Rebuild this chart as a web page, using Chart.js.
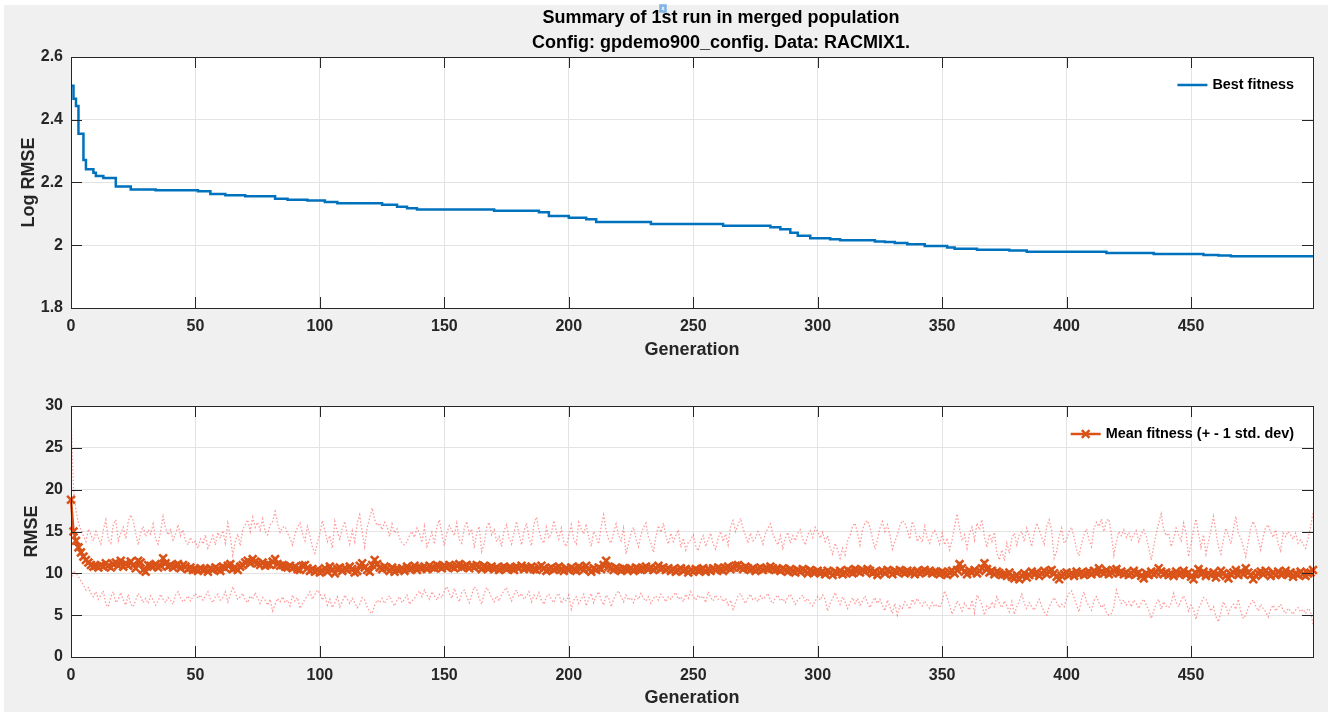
<!DOCTYPE html>
<html lang="en">
<head>
<meta charset="utf-8" />
<title>Summary of 1st run in merged population</title>
<style>
html,body{margin:0;padding:0;background:#fff;}
body{width:1328px;height:713px;position:relative;overflow:hidden;}
#fig{position:absolute;left:4px;top:5px;right:0;height:707px;background:#f0f0f0;}
canvas{position:absolute;left:0;}
#topChart{top:0;}
#botChart{top:370px;}
</style>
</head>
<body>
<div id="fig"></div>
<canvas id="topChart" width="1328" height="370"></canvas>
<canvas id="botChart" width="1328" height="343"></canvas>

<script src="https://cdn.jsdelivr.net/npm/chart.js@4.4.1"></script>
<script>
/* ─────────── data ─────────── */
// best fitness: generation where the level changes, and the new level
const bestGen = [0,1,2,3,5,6,9,10,13,18,24,34,51,56,62,70,82,87,95,102,107,125,131,135,139,170,188,192,200,207,211,233,262,281,285,289,292,297,305,309,323,327,331,336,343,352,355,364,377,384,416,435,455,461,466,499];
const bestVal = [2.508,2.467,2.444,2.355,2.272,2.242,2.231,2.221,2.214,2.187,2.178,2.175,2.172,2.163,2.159,2.156,2.148,2.145,2.143,2.138,2.134,2.129,2.123,2.118,2.114,2.110,2.105,2.093,2.088,2.083,2.074,2.068,2.062,2.057,2.051,2.040,2.030,2.022,2.019,2.016,2.012,2.010,2.007,2.003,1.998,1.993,1.989,1.986,1.983,1.979,1.975,1.972,1.969,1.967,1.965,1.965];

// mean fitness per generation (0..499)
const meanFit = [
18.8,15.0,13.9,13.1,12.5,12.0,11.6,11.3,11.0,10.8,10.9,10.7,11.0,10.8,11.2,10.9,10.7,11.1,11.3,10.9,11.5,10.8,11.2,10.9,11.4,
11.0,10.6,11.5,11.3,10.4,10.2,11.0,10.9,10.8,11.1,10.7,10.9,11.8,11.2,10.8,11.0,10.7,10.9,11.1,10.6,11.0,10.8,10.5,10.7,10.4,
10.5,10.3,10.6,10.4,10.5,10.2,10.6,10.4,10.7,10.5,10.3,10.8,10.6,10.9,11.1,10.5,10.7,10.4,10.8,11.0,11.3,11.5,11.2,11.7,11.4,
11.2,11.0,11.3,10.9,11.1,11.0,11.4,11.7,11.1,10.9,11.0,10.8,10.7,10.9,10.6,10.8,10.5,10.4,10.9,11.0,10.6,10.3,10.5,10.2,10.4,
10.1,10.3,10.6,10.2,10.8,10.4,10.0,10.5,10.7,10.3,10.6,10.4,10.8,10.5,10.1,10.3,10.9,11.2,10.7,10.4,10.2,11.0,11.6,11.1,10.7,
10.5,10.8,10.6,10.3,10.7,10.2,10.5,10.4,10.6,10.3,10.8,10.5,10.6,10.9,10.4,10.7,10.6,10.8,10.5,10.9,10.7,10.6,11.0,10.8,10.6,
10.9,10.7,11.0,10.8,10.6,10.9,11.1,10.7,10.8,11.0,10.6,10.9,10.7,11.0,10.8,10.5,10.9,10.7,10.6,10.8,10.5,10.7,10.4,10.6,10.8,
10.5,10.7,10.6,10.4,10.8,10.6,10.9,10.5,10.7,10.6,10.8,10.5,10.4,10.7,10.9,10.6,10.3,10.5,10.7,10.4,10.6,10.8,10.5,10.3,10.6,
10.4,10.7,10.5,10.3,10.8,10.6,10.4,10.9,10.5,10.2,10.6,10.4,10.7,10.5,11.0,11.5,10.8,10.6,10.4,10.7,10.5,10.3,10.6,10.5,10.4,
10.6,10.3,10.7,10.5,10.4,10.6,10.8,10.5,10.7,10.4,10.6,10.9,10.5,10.7,10.4,10.6,10.3,10.5,10.2,10.4,10.6,10.3,10.5,10.1,10.4,
10.2,10.5,10.3,10.4,10.6,10.2,10.5,10.3,10.6,10.4,10.7,10.5,10.3,10.6,10.8,10.5,10.7,10.9,11.0,10.7,10.5,10.8,10.6,10.4,10.6,
10.3,10.5,10.7,10.4,10.6,10.5,10.8,10.6,10.4,10.5,10.3,10.6,10.4,10.2,10.5,10.3,10.1,10.4,10.2,10.5,10.3,10.0,10.4,10.2,10.1,
10.3,10.0,10.2,9.9,10.3,10.1,9.8,10.2,10.0,10.3,9.9,10.1,10.4,10.2,10.0,10.5,10.3,10.1,10.4,10.2,10.5,10.3,10.0,10.2,9.8,
10.1,10.3,10.0,10.4,10.2,9.9,10.3,10.1,10.4,10.2,10.0,10.3,10.1,10.2,9.9,10.3,10.0,10.2,10.4,10.1,10.3,10.0,10.2,10.1,9.9,
10.2,10.0,9.8,10.1,10.3,10.0,10.4,11.1,10.6,10.2,9.9,10.3,10.1,10.4,10.0,10.3,10.6,11.2,10.5,10.1,10.3,9.9,10.2,10.0,9.8,
9.9,9.7,10.1,9.6,9.4,9.8,9.3,9.7,10.0,9.5,9.8,10.2,9.9,10.1,9.7,10.0,10.3,9.9,10.2,10.4,10.0,9.6,9.3,9.7,9.9,
10.1,9.8,10.0,9.7,10.2,9.9,10.1,9.8,10.0,10.2,9.9,10.3,10.0,10.6,10.2,10.0,10.4,9.9,10.1,10.3,10.5,10.0,10.2,9.9,10.1,
9.8,10.0,10.3,9.9,10.1,9.7,9.4,10.0,9.8,10.2,9.9,10.1,10.6,10.2,9.9,10.1,9.8,10.0,9.7,10.2,9.9,10.0,10.3,9.8,10.1,
9.6,9.3,10.0,10.5,9.9,10.2,9.7,10.0,9.8,10.1,9.5,9.9,10.3,10.0,9.7,9.4,9.9,10.1,10.4,9.8,10.2,9.9,10.6,10.1,9.8,
9.3,9.7,10.0,10.2,9.9,10.3,10.0,9.7,10.1,9.8,10.2,9.9,10.0,10.3,9.8,10.1,9.6,10.0,9.8,10.2,9.9,9.7,10.0,10.1,10.4
];

// mean + 1 std. dev
const upperFit = [
28.7,20.2,17.5,16.0,15.2,14.5,13.8,15.3,14.6,13.9,15.0,14.2,13.5,15.2,16.4,14.0,13.6,15.8,16.4,13.9,14.8,15.5,14.1,16.2,17.0,
16.3,14.8,13.4,14.9,15.6,14.4,15.2,14.7,15.9,14.1,13.5,15.0,16.8,15.4,14.6,15.2,14.0,14.7,15.8,14.5,15.2,13.9,13.4,14.3,13.6,
13.8,13.0,14.1,13.5,14.6,13.0,13.7,14.5,13.4,14.9,14.2,15.1,13.6,16.0,14.4,12.2,13.8,14.7,13.3,15.2,15.8,16.4,15.0,16.7,15.5,
16.1,15.2,16.5,15.0,14.6,15.8,16.2,17.4,16.0,14.9,15.5,15.6,14.8,14.2,13.4,14.7,15.5,16.0,14.8,13.9,15.6,14.5,13.1,12.4,13.7,
14.8,16.3,15.1,13.8,14.5,13.0,16.2,15.0,14.1,15.4,16.2,14.6,13.5,15.1,13.8,16.0,17.0,14.9,13.2,15.5,16.6,17.8,16.4,15.7,16.0,
15.2,16.1,15.6,14.4,15.9,14.8,15.3,14.2,13.6,13.4,13.8,14.5,15.0,14.3,15.4,14.8,13.7,15.6,13.2,14.0,14.9,13.5,15.6,16.4,14.7,
13.3,14.8,15.7,15.2,14.5,16.0,14.0,13.6,15.4,16.2,14.7,15.3,13.0,14.8,15.6,12.6,13.5,15.5,16.1,14.6,15.2,13.8,14.4,13.2,15.1,
15.8,14.2,13.5,14.9,16.2,14.7,13.4,15.0,16.0,14.3,13.3,15.9,16.7,15.2,14.0,13.6,15.5,14.2,14.8,16.3,15.0,14.1,15.4,13.7,13.2,
14.5,15.8,14.0,13.5,16.1,15.3,14.7,15.9,14.3,13.2,15.0,14.4,13.5,15.6,17.0,15.2,14.0,13.6,14.8,15.9,14.5,13.9,15.4,12.3,13.6,
14.8,15.5,14.1,13.2,14.6,15.5,16.0,14.3,13.6,12.5,14.4,15.7,14.9,16.0,14.5,13.5,14.8,13.8,14.5,15.2,13.1,14.2,12.8,13.7,14.0,
14.6,13.3,12.7,13.9,14.5,13.2,14.0,14.8,13.5,12.9,14.2,15.0,13.8,14.7,13.4,15.6,16.3,15.0,15.8,16.6,15.4,14.5,13.6,14.8,13.9,
14.2,15.0,14.4,13.5,14.8,15.4,15.9,14.7,14.0,13.4,14.5,13.0,14.2,14.9,13.6,14.5,13.9,14.8,15.2,14.1,13.4,14.6,15.1,14.3,15.5,
15.0,14.2,14.9,13.8,14.5,13.1,12.3,13.6,12.8,11.8,13.0,12.2,13.9,14.5,15.6,16.0,14.8,13.4,15.2,16.0,16.3,15.5,14.2,12.9,14.0,
15.4,16.2,15.0,15.8,14.6,12.9,13.8,14.6,15.7,16.3,16.0,15.2,14.1,16.2,15.4,13.8,14.5,13.7,15.6,14.2,13.6,14.7,15.1,14.4,13.5,
14.8,13.4,14.2,12.8,14.0,15.6,17.1,15.3,13.9,14.6,13.0,14.8,15.5,14.0,16.0,15.2,16.4,14.4,13.1,14.7,13.8,14.9,12.4,11.6,12.8,
11.5,13.6,12.4,14.2,14.8,13.4,14.6,15.0,13.8,15.4,14.4,13.2,14.9,16.0,15.2,14.3,13.5,15.6,16.4,15.1,11.8,12.6,14.4,15.4,13.6,
14.0,15.0,15.5,14.3,12.8,12.1,13.5,14.6,15.3,14.0,13.2,15.4,16.1,15.6,16.5,15.0,16.3,16.5,14.6,12.2,13.8,15.0,14.5,15.2,14.3,
14.9,14.0,14.6,15.1,13.8,14.7,15.2,14.4,13.0,11.6,13.2,14.8,16.0,17.1,15.3,14.5,14.8,13.2,14.1,15.4,14.6,13.9,16.0,14.8,12.0,
13.5,15.2,16.5,14.7,13.1,14.6,12.3,13.8,15.2,16.8,15.0,13.2,12.3,14.0,15.4,14.6,13.5,15.2,16.8,14.8,14.2,13.2,12.0,13.8,15.5,
16.2,15.4,14.0,12.8,14.4,15.5,15.8,14.9,14.3,15.2,13.5,12.7,14.8,14.4,15.0,14.6,14.1,14.8,13.6,14.0,13.5,13.0,14.2,15.5,17.2
];

// mean - 1 std. dev
const lowerFit = [
9.2,10.3,10.0,9.6,9.1,8.6,8.0,8.3,7.6,7.2,7.8,6.9,7.4,7.9,6.3,6.0,7.2,7.8,6.5,6.9,7.7,6.8,6.2,7.5,6.3,
6.0,6.8,7.6,7.2,6.5,7.0,6.4,7.3,6.8,6.2,6.7,7.5,6.9,6.5,7.1,6.8,6.3,7.4,7.8,7.1,6.6,6.9,7.3,6.7,7.2,
7.6,7.0,7.4,6.8,7.3,7.8,6.9,6.5,7.2,7.5,6.8,7.1,7.8,6.6,7.4,8.4,7.6,6.9,7.2,7.6,6.8,6.5,7.3,6.9,7.7,
7.0,6.4,7.1,6.8,6.2,6.9,5.5,6.3,7.0,6.6,7.2,6.5,6.8,6.1,7.4,6.7,7.1,5.8,6.4,6.9,7.3,7.8,6.9,7.5,8.0,
7.6,6.8,7.4,6.2,6.9,5.9,6.5,7.2,6.0,6.6,7.4,6.9,6.4,7.0,6.5,5.9,6.3,7.1,6.8,6.0,5.4,5.2,6.2,6.8,6.5,
7.0,6.4,6.9,7.3,6.6,6.1,6.8,7.2,6.5,6.9,7.4,6.3,6.7,7.0,7.5,7.9,7.2,8.0,7.4,6.9,7.8,7.3,6.8,7.5,7.1,
7.9,8.4,7.6,7.0,8.2,7.3,6.6,7.7,8.0,7.2,6.5,7.4,8.4,8.1,7.0,6.3,7.6,8.3,7.8,7.1,6.6,7.3,6.7,7.5,7.9,
8.3,7.4,6.7,7.5,8.0,7.2,7.6,6.9,7.3,7.8,6.6,7.4,7.0,7.7,6.8,6.3,7.2,7.5,6.9,6.5,7.3,7.6,6.4,7.0,6.7,
7.4,5.7,6.8,7.2,6.4,6.9,7.5,6.1,7.0,7.6,6.5,7.3,7.8,6.8,6.2,7.4,7.1,6.0,6.9,7.5,7.9,7.2,6.6,7.4,6.8,
7.1,6.5,7.3,6.9,7.6,7.0,6.7,7.2,6.4,7.0,7.3,6.8,7.5,7.1,6.6,7.2,6.9,7.4,7.7,6.9,7.2,6.6,7.5,7.0,7.8,
7.2,6.8,7.4,7.0,7.3,6.5,7.8,7.1,6.7,7.4,6.9,7.2,6.6,7.0,6.2,6.8,5.7,6.5,7.3,7.6,6.9,6.4,7.1,7.5,6.8,
7.0,6.6,7.3,6.9,7.2,7.6,6.8,6.4,7.1,7.4,6.7,7.0,6.5,7.2,7.5,6.9,6.3,6.8,7.1,7.4,6.6,7.0,6.4,6.1,6.7,
7.2,6.8,7.4,6.9,5.5,6.4,7.0,7.7,6.9,6.3,7.2,6.6,5.8,6.5,7.1,6.4,7.0,6.2,6.7,7.3,6.5,5.9,6.6,7.1,6.4,
6.9,6.2,5.5,6.8,6.0,5.2,6.4,5.0,6.1,5.8,6.6,6.2,5.7,6.9,6.4,7.0,6.5,6.1,6.7,6.2,5.8,6.5,6.0,6.3,5.9,
6.6,7.9,7.1,6.2,5.1,5.8,6.7,6.2,5.5,6.4,6.0,5.6,6.8,5.3,7.4,6.9,6.2,5.0,6.1,5.7,6.6,6.0,7.2,6.4,5.9,
6.7,6.1,5.4,6.6,5.1,6.0,6.7,7.5,6.4,5.8,6.5,6.0,5.6,6.3,6.9,6.1,5.4,5.0,6.0,6.6,7.1,6.5,5.9,6.3,6.0,
7.0,7.6,7.9,7.1,6.2,5.4,6.9,7.8,6.6,6.1,5.6,6.7,7.2,6.5,5.9,6.3,5.3,5.0,5.2,6.0,8.0,7.1,6.4,6.8,6.2,
6.6,6.0,6.8,6.4,5.8,6.5,6.9,6.2,5.6,4.6,5.5,6.4,6.9,5.7,6.6,6.1,5.9,6.4,7.6,6.5,6.0,6.8,7.3,6.6,5.5,
6.2,5.7,4.5,5.8,6.4,7.1,6.9,6.2,5.5,6.0,4.8,4.2,5.4,6.6,6.0,5.2,5.9,6.3,5.7,6.9,5.4,4.6,5.0,5.9,6.4,
6.8,6.1,5.5,6.3,5.8,5.4,4.8,5.7,6.2,5.5,5.9,6.3,5.6,5.2,5.8,5.5,5.1,5.6,5.9,5.4,5.7,5.2,5.8,5.5,3.9
];

const generations = meanFit.map((_, i) => i);
const xTicks = [0,50,100,150,200,250,300,350,400,450];
const titleLines = ['Summary of 1st run in merged population', 'Config: gpdemo900_config. Data: RACMIX1.'];

/* ─────────── look ─────────── */
const FONT = '"Liberation Sans", Arial, Helvetica, sans-serif';
const INK = '#262626';
const BLUE = '#0072BD';
const ORANGE = '#D95319';
const DOTRED = 'rgba(255,30,30,0.45)';

Chart.defaults.animation = false;
Chart.defaults.font.family = FONT;
Chart.defaults.color = INK;

/* MATLAB-ish axes box: white plot area, inward ticks, legend, title */
const matlabBox = {
    id: 'matlabBox',
    beforeDraw(chart) {
        const {ctx, chartArea: a} = chart;
        ctx.save();
        ctx.fillStyle = '#fff';
        ctx.fillRect(a.left, a.top, a.right - a.left, a.bottom - a.top);
        ctx.restore();
    },
    afterDraw(chart, args, opts) {
        const {ctx, chartArea: a, scales: {x, y}} = chart;
        ctx.save();
        ctx.strokeStyle = INK;
        ctx.lineWidth = 1;
        ctx.beginPath();
        x.ticks.forEach(t => {
            const px = Math.round(x.getPixelForValue(t.value)) + 0.5;
            ctx.moveTo(px, a.bottom); ctx.lineTo(px, a.bottom - 11);
            ctx.moveTo(px, a.top);    ctx.lineTo(px, a.top + 11);
        });
        y.ticks.forEach(t => {
            const py = Math.round(y.getPixelForValue(t.value)) + 0.5;
            ctx.moveTo(a.left, py);  ctx.lineTo(a.left + 11, py);
            ctx.moveTo(a.right, py); ctx.lineTo(a.right - 11, py);
        });
        ctx.stroke();
        ctx.strokeRect(Math.round(a.left) + 0.5, Math.round(a.top) + 0.5,
                       Math.round(a.right - a.left), Math.round(a.bottom - a.top));

        /* legend */
        const lg = opts.legend;
        if (lg) {
            ctx.font = 'bold 14.4px ' + FONT;
            ctx.fillStyle = '#000';
            ctx.textAlign = 'right';
            ctx.textBaseline = 'middle';
            const tx = a.right - 19;
            const ty = a.top + lg.dy;
            ctx.fillText(lg.text, tx, ty);
            const left = tx - ctx.measureText(lg.text).width - 5;
            ctx.strokeStyle = lg.color;
            ctx.lineWidth = 2.5;
            ctx.beginPath();
            ctx.moveTo(left - 30, ty); ctx.lineTo(left, ty);
            ctx.stroke();
            if (lg.marker) {
                const mx = left - 15, r = 3.8;
                ctx.lineWidth = 2.5;
                ctx.beginPath();
                ctx.moveTo(mx - r, ty - r); ctx.lineTo(mx + r, ty + r);
                ctx.moveTo(mx - r, ty + r); ctx.lineTo(mx + r, ty - r);
                ctx.stroke();
            }
        }

        /* figure title */
        if (opts.title) {
            ctx.font = 'bold 18px ' + FONT;
            ctx.fillStyle = '#000';
            ctx.textAlign = 'center';
            ctx.textBaseline = 'middle';
            opts.title.forEach((t, i) => ctx.fillText(t, 721, 18 + i * 25));
            ctx.strokeStyle = '#7fb2e5';
            ctx.fillStyle = '#d6e8fa';
            ctx.fillRect(660.5, 5.5, 5, 6);
            ctx.strokeRect(660.5, 5.5, 5, 6);
        }
        ctx.restore();
    }
};

function xAxis(padBottom, height) {
    return {
        type: 'linear', min: 0, max: 499,
        afterFit: s => { s.height = height; },
        afterBuildTicks: s => { s.ticks = xTicks.map(v => ({value: v})); },
        ticks: {font: {size: 16, weight: 'bold'}, color: INK, padding: 9, maxRotation: 0, autoSkip: false},
        grid: {color: '#e3e3e3', drawTicks: false},
        border: {display: false},
        title: {display: true, text: 'Generation', color: INK,
                font: {size: 18, weight: 'bold'}, padding: {bottom: padBottom, top: 0}}
    };
}

function yAxis(label, min, max, step, padTop, fmt) {
    return {
        min, max,
        afterFit: s => { s.width = 71; },
        ticks: {stepSize: step, font: {size: 16, weight: 'bold'}, color: INK, padding: 8, callback: fmt},
        grid: {color: '#e3e3e3', drawTicks: false},
        border: {display: false},
        title: {display: true, text: label, color: INK,
                font: {size: 18, weight: 'bold'}, padding: {top: padTop, bottom: 0}}
    };
}

/* ─────────── top: best fitness ─────────── */
new Chart(document.getElementById('topChart'), {
    type: 'line',
    data: {
        datasets: [{
            label: 'Best fitness',
            data: bestGen.map((g, i) => ({x: g, y: bestVal[i]})),
            borderColor: BLUE, borderWidth: 2.5,
            stepped: true, pointRadius: 0, fill: false
        }]
    },
    options: {
        responsive: false,
        events: [],
        layout: {padding: {top: 57, right: 15, left: 0, bottom: 0}},
        plugins: {
            legend: {display: false}, tooltip: {enabled: false},
            matlabBox: {
                title: titleLines,
                legend: {text: 'Best fitness', color: BLUE, dy: 28}
            }
        },
        scales: {
            x: xAxis(9, 62),
            y: yAxis('Log RMSE', 1.8, 2.6, 0.2, 18, v => String(+v.toFixed(1)))
        }
    },
    plugins: [matlabBox]
});

/* ─────────── bottom: mean fitness ± 1 std ─────────── */
new Chart(document.getElementById('botChart'), {
    type: 'line',
    data: {
        labels: generations,
        datasets: [
            {
                label: 'Mean fitness (+ - 1 std. dev)',
                data: meanFit,
                borderColor: ORANGE, backgroundColor: ORANGE, borderWidth: 2.5,
                pointStyle: 'crossRot', pointRadius: 5.5, pointBorderWidth: 2.6,
                pointBorderColor: ORANGE, fill: false, clip: false
            },
            {
                label: '+1 std',
                data: upperFit,
                borderColor: DOTRED, borderWidth: 1.3, borderDash: [1.5, 2],
                pointRadius: 0, fill: false
            },
            {
                label: '-1 std',
                data: lowerFit,
                borderColor: DOTRED, borderWidth: 1.3, borderDash: [1.5, 2],
                pointRadius: 0, fill: false
            }
        ]
    },
    options: {
        responsive: false,
        events: [],
        layout: {padding: {top: 36, right: 15, left: 0, bottom: 0}},
        plugins: {
            legend: {display: false}, tooltip: {enabled: false},
            matlabBox: {
                legend: {text: 'Mean fitness (+ - 1 std. dev)', color: ORANGE, marker: true, dy: 28}
            }
        },
        scales: {
            x: xAxis(4, 56),
            y: yAxis('RMSE', 0, 30, 5, 21, v => String(v))
        }
    },
    plugins: [matlabBox]
});
</script>
</body>
</html>
